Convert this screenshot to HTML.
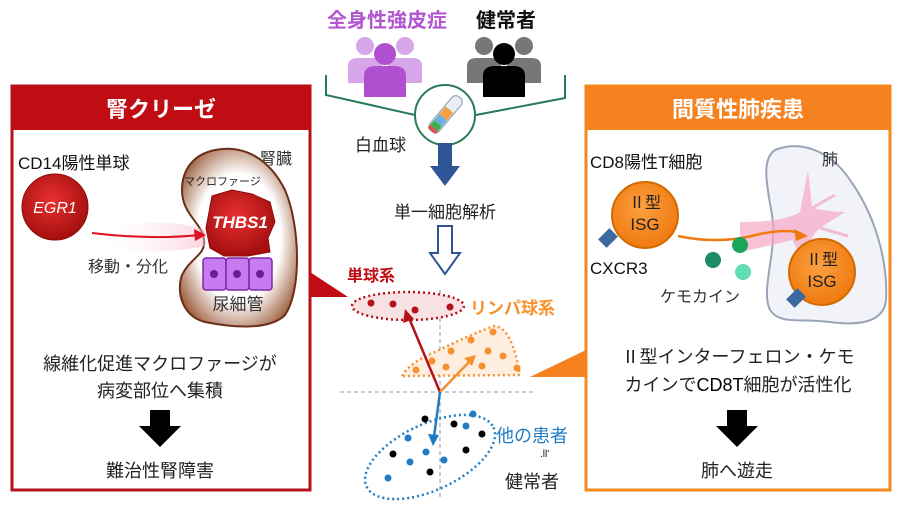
<!DOCTYPE html>
<html><head><meta charset="utf-8"><style>
html,body{margin:0;padding:0;background:#fff}
svg{display:block}
text{font-family:"Liberation Sans","Noto Sans CJK JP",sans-serif}
</style></head><body>
<svg width="900" height="510" viewBox="0 0 900 510" xmlns="http://www.w3.org/2000/svg">
<defs>
<radialGradient id="kid" cx="50%" cy="50%" r="60%"><stop offset="0.6" stop-color="#fff"/><stop offset="1" stop-color="#9a5a38"/></radialGradient>
<radialGradient id="red" cx="45%" cy="40%" r="60%"><stop offset="0" stop-color="#e83030"/><stop offset="1" stop-color="#a50f0f"/></radialGradient>
<radialGradient id="org" cx="45%" cy="40%" r="60%"><stop offset="0" stop-color="#fba040"/><stop offset="1" stop-color="#f07a10"/></radialGradient>
<linearGradient id="pink" x1="0" x2="1"><stop offset="0" stop-color="#fff" stop-opacity="0"/><stop offset="1" stop-color="#f7a8c4"/></linearGradient>
</defs>

<!-- Left panel -->
<rect x="12" y="86" width="298" height="404" fill="#fff" stroke="#b3121a" stroke-width="3"/>
<rect x="12" y="86" width="298" height="44" fill="#c00d14"/>
<text x="161" y="117" font-size="22" font-weight="bold" fill="#fff" text-anchor="middle">腎クリーゼ</text>
<text x="18" y="169" font-size="17" fill="#111">CD14陽性単球</text>
<text x="260" y="164" font-size="16" fill="#333">腎臓</text>
<path d="M215,150 C245,144 270,160 285,190 C300,225 302,290 285,315 C270,330 235,328 205,322 C182,316 176,292 182,275 C190,258 206,255 204,240 C202,222 182,215 182,190 C182,168 195,154 215,150 Z" fill="url(#kid)" stroke="#6b2e18" stroke-width="2"/>
<text x="184" y="185" font-size="11" fill="#222">マクロファージ</text>
<path d="M95,232 C130,220 180,220 205,230 L205,246 C170,254 120,254 95,240 Z" fill="url(#pink)" opacity="0.5"/>
<path d="M212,196 L232,190 L252,194 L270,202 L275,222 L268,238 L270,252 L248,256 L224,256 L210,248 L206,228 Z" fill="url(#red)" stroke="#8e0a0a"/>
<text x="240" y="228" font-size="17" font-weight="bold" font-style="italic" fill="#fff" text-anchor="middle">THBS1</text>
<circle cx="55" cy="207" r="33" fill="url(#red)" stroke="#8e0a0a"/>
<text x="55" y="213" font-size="16" font-style="italic" fill="#fff" text-anchor="middle">EGR1</text>
<path d="M92,233 Q150,240 200,235" fill="none" stroke="#e01020" stroke-width="2"/>
<polygon points="206,235 194,229 195,241" fill="#e01020"/>
<text x="88" y="272" font-size="16" fill="#333">移動・分化</text>
<g fill="#c67cf0" stroke="#7b2aa8" stroke-width="1.5">
<rect x="203" y="258" width="23" height="32" rx="3"/><rect x="226" y="258" width="23" height="32" rx="3"/><rect x="249" y="258" width="23" height="32" rx="3"/></g>
<g fill="#6a1d9a"><circle cx="214" cy="274" r="4"/><circle cx="237" cy="274" r="4"/><circle cx="260" cy="274" r="4"/></g>
<text x="238" y="310" font-size="17" fill="#333" text-anchor="middle">尿細管</text>
<text x="160" y="370" font-size="18" fill="#222" text-anchor="middle">線維化促進マクロファージが</text>
<text x="160" y="397" font-size="18" fill="#222" text-anchor="middle">病変部位へ集積</text>
<polygon points="150,410 170,410 170,426 181,426 160,447 139,426 150,426" fill="#000"/>
<text x="160" y="477" font-size="18" fill="#222" text-anchor="middle">難治性腎障害</text>
<polygon points="310,272 310,297 348,297" fill="#c00d14"/>

<!-- Right panel -->
<rect x="586" y="86" width="304" height="404" fill="#fff" stroke="#f28a1e" stroke-width="3"/>
<rect x="586" y="86" width="304" height="44" fill="#f5821f"/>
<text x="738" y="117" font-size="22" font-weight="bold" fill="#fff" text-anchor="middle">間質性肺疾患</text>
<text x="590" y="168" font-size="17" fill="#111">CD8陽性T細胞</text>
<path d="M775,150 C800,140 830,150 850,180 C875,215 888,260 886,300 C884,322 860,326 830,322 C800,318 780,325 770,310 C760,290 778,250 772,215 C768,190 760,160 775,150Z" fill="#f1f3f8" stroke="#9aa4b8" stroke-width="2"/>
<text x="822" y="165" font-size="16" fill="#333">肺</text>
<path d="M740,222 Q785,222 800,212 L808,170 L812,208 Q830,212 845,212 L820,228 Q805,240 808,270 L792,240 Q760,248 740,252Z" fill="#f6a6c4" opacity="0.7"/>
<path d="M812,208 L835,195 M820,228 L848,236" stroke="#f6a6c4" stroke-width="3" opacity="0.7"/>
<circle cx="645" cy="215" r="33" fill="url(#org)" stroke="#d26a00" stroke-width="2"/>
<text x="645" y="208" font-size="16" fill="#222" text-anchor="middle">Ⅱ型</text>
<text x="645" y="230" font-size="17" fill="#222" text-anchor="middle">ISG</text>
<rect x="602" y="230" width="12" height="16" fill="#3c6aa0" transform="rotate(45 608 238)"/>
<path d="M678,236 Q720,245 760,234 Q790,228 802,234" fill="none" stroke="#f07a10" stroke-width="2.5"/>
<polygon points="808,236 794,229 796,241" fill="#f07a10"/>
<text x="590" y="274" font-size="17" fill="#111">CXCR3</text>
<circle cx="713" cy="260" r="8" fill="#1e8a68"/>
<circle cx="740" cy="245" r="8" fill="#1aa55a"/>
<circle cx="743" cy="272" r="8" fill="#62dcb4"/>
<text x="660" y="302" font-size="16" fill="#333">ケモカイン</text>
<circle cx="822" cy="272" r="33" fill="url(#org)" stroke="#d26a00" stroke-width="2"/>
<text x="822" y="265" font-size="16" fill="#222" text-anchor="middle">Ⅱ型</text>
<text x="822" y="287" font-size="17" fill="#222" text-anchor="middle">ISG</text>
<rect x="790" y="290" width="12" height="16" fill="#3c6aa0" transform="rotate(45 796 298)"/>
<text x="738" y="363" font-size="18" fill="#222" text-anchor="middle">Ⅱ型インターフェロン・ケモ</text>
<text x="738" y="391" font-size="18" fill="#222" text-anchor="middle">カインで<tspan fill="#000">CD8T</tspan>細胞が活性化</text>
<polygon points="727,410 747,410 747,426 758,426 737,447 716,426 727,426" fill="#000"/>
<text x="737" y="477" font-size="18" fill="#222" text-anchor="middle">肺へ遊走</text>
<polygon points="586,350 586,377 530,377" fill="#f5821f"/>

<!-- Top center -->
<text x="387" y="27" font-size="20" font-weight="bold" fill="#b357d0" text-anchor="middle">全身性強皮症</text>
<text x="506" y="27" font-size="20" font-weight="bold" fill="#111" text-anchor="middle">健常者</text>
<g fill="#d7a6e8"><circle cx="365" cy="46" r="9"/><path d="M348,83 L348,66 Q348,58 358,58 L372,58 Q382,58 382,66 L382,83Z"/><circle cx="405" cy="46" r="9"/><path d="M388,83 L388,66 Q388,58 398,58 L412,58 Q422,58 422,66 L422,83Z"/></g>
<g fill="#b04fd0"><circle cx="385" cy="54" r="11"/><path d="M364,97 L364,76 Q364,66 376,66 L394,66 Q406,66 406,76 L406,97Z"/></g>
<g fill="#777"><circle cx="484" cy="46" r="9"/><path d="M467,83 L467,66 Q467,58 477,58 L491,58 Q501,58 501,66 L501,83Z"/><circle cx="524" cy="46" r="9"/><path d="M507,83 L507,66 Q507,58 517,58 L531,58 Q541,58 541,66 L541,83Z"/></g>
<g fill="#000"><circle cx="504" cy="54" r="11"/><path d="M483,97 L483,76 Q483,66 495,66 L513,66 Q525,66 525,76 L525,97Z"/></g>
<polyline points="326,75 326,95 415,115" fill="none" stroke="#2a7a5a" stroke-width="2"/>
<polyline points="565,75 565,98 476,115" fill="none" stroke="#2a7a5a" stroke-width="2"/>
<circle cx="445" cy="115" r="30" fill="#fff" stroke="#2a7a5a" stroke-width="2"/>
<g transform="rotate(40 445 115)"><rect x="439" y="92" width="12" height="44" rx="5" fill="#e8eef4" stroke="#8898a8"/><rect x="440" y="108" width="10" height="10" fill="#f5a040"/><rect x="440" y="118" width="10" height="8" fill="#6ab0e0"/><rect x="440" y="126" width="10" height="6" fill="#3cb04a"/><rect x="440" y="132" width="10" height="4" fill="#e05050"/></g>
<text x="355" y="151" font-size="17" fill="#222">白血球</text>
<rect x="438" y="143" width="14" height="24" fill="#2f5597"/>
<polygon points="430,166 460,166 445,186" fill="#2f5597"/>
<text x="445" y="218" font-size="17" fill="#222" text-anchor="middle">単一細胞解析</text>
<polygon points="438,226 452,226 452,253 460,253 445,274 430,253 438,253" fill="#fff" stroke="#2f5597" stroke-width="2"/>

<!-- Scatter -->
<text x="347" y="281" font-size="16" font-weight="bold" fill="#c00d14">単球系</text>
<text x="470" y="314" font-size="17" font-weight="bold" fill="#f5922f">リンパ球系</text>
<line x1="340" y1="392" x2="536" y2="392" stroke="#8a9ab0" stroke-dasharray="4,3"/>
<line x1="440" y1="290" x2="440" y2="500" stroke="#8a9ab0" stroke-dasharray="4,3"/>
<ellipse cx="408" cy="306" rx="56" ry="14" fill="#f7e1e3" stroke="#b3121a" stroke-width="2.5" stroke-dasharray="2,3"/>
<g fill="#b3121a"><circle cx="371" cy="303" r="3.5"/><circle cx="393" cy="304" r="3.5"/><circle cx="415" cy="310" r="3.5"/><circle cx="450" cy="307" r="3.5"/></g>
<path d="M402,376 Q410,362 435,352 Q480,330 495,326 Q512,328 520,375 Z" fill="#fdeee0" stroke="#f5922f" stroke-width="2.5" stroke-dasharray="2,3"/>
<g fill="#f5922f"><circle cx="416" cy="370" r="3.5"/><circle cx="432" cy="361" r="3.5"/><circle cx="446" cy="367" r="3.5"/><circle cx="451" cy="351" r="3.5"/><circle cx="471" cy="340" r="3.5"/><circle cx="493" cy="332" r="3.5"/><circle cx="488" cy="351" r="3.5"/><circle cx="503" cy="356" r="3.5"/><circle cx="482" cy="366" r="3.5"/><circle cx="517" cy="368" r="3.5"/></g>
<ellipse cx="430" cy="457" rx="70" ry="33" transform="rotate(-25 430 457)" fill="none" stroke="#1f7cc4" stroke-width="2.5" stroke-dasharray="2,3"/>
<g fill="#1f7cc4"><circle cx="473" cy="414" r="3.5"/><circle cx="466" cy="426" r="3.5"/><circle cx="408" cy="438" r="3.5"/><circle cx="426" cy="452" r="3.5"/><circle cx="410" cy="462" r="3.5"/><circle cx="444" cy="460" r="3.5"/><circle cx="388" cy="478" r="3.5"/></g>
<g fill="#000"><circle cx="425" cy="419" r="3.5"/><circle cx="454" cy="424" r="3.5"/><circle cx="482" cy="434" r="3.5"/><circle cx="466" cy="450" r="3.5"/><circle cx="393" cy="454" r="3.5"/><circle cx="430" cy="472" r="3.5"/></g>
<line x1="440" y1="392" x2="409" y2="318" stroke="#b3121a" stroke-width="2.5"/>
<polygon points="405,309 403,323 414,319" fill="#b3121a"/>
<line x1="440" y1="392" x2="470" y2="361" stroke="#f5922f" stroke-width="2.5"/>
<polygon points="476,355 464,358 472,366" fill="#f5922f"/>
<line x1="440" y1="392" x2="434" y2="437" stroke="#1f7cc4" stroke-width="2.5"/>
<polygon points="433,446 428,434 439,435" fill="#1f7cc4"/>
<text x="496" y="442" font-size="18" fill="#1f7cc4">他の患者</text>
<text x="540" y="457" font-size="10" fill="#111">.ll'</text>
<text x="505" y="488" font-size="18" fill="#222">健常者</text>
</svg>
</body></html>
